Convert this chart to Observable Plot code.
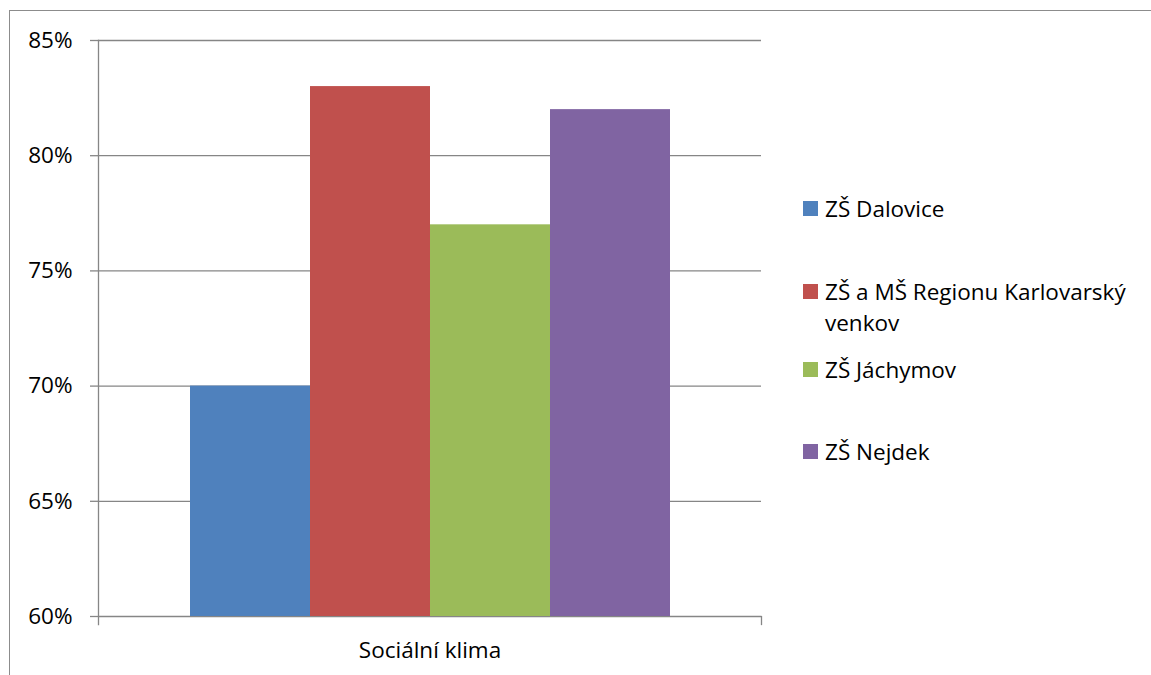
<!DOCTYPE html>
<html>
<head>
<meta charset="utf-8">
<script src="https://cdn.jsdelivr.net/npm/d3@7"></script>
<script src="https://cdn.jsdelivr.net/npm/@observablehq/plot@0.6"></script>
<style>
  html, body { margin: 0; padding: 0; background: #fff; }
  body { width: 1151px; height: 675px; position: relative; overflow: hidden; font-family: "Open Sans", sans-serif; }
  #border { position: absolute; left: 9px; top: 10px; right: -10px; bottom: -10px; border: 1.5px solid #8c8c8c; }
  #chart { position: absolute; left: 0; top: 0; }
  .leg { position: absolute; left: 803px; display: flex; align-items: flex-start; font-size: 22.5px; line-height: 31px; color: #000; }
  .leg .sw { width: 15px; height: 15px; margin-top: 8px; margin-right: 7px; flex: none; }
  .leg .tx { width: 320px; }
</style>
</head>
<body>
<div id="border"></div>
<div id="chart"></div>
<script>
const categories = ["Sociální klima"];
const series = ["ZŠ Dalovice", "ZŠ a MŠ Regionu Karlovarský venkov", "ZŠ Jáchymov", "ZŠ Nejdek"];
const values = [0.70, 0.83, 0.77, 0.82];
const colors = ["#4f81bd", "#c0504d", "#9bbb59", "#8064a2"];
const yTicks = [0.60, 0.65, 0.70, 0.75, 0.80, 0.85];
const yMin = 0.60, yMax = 0.85;

const data = series.map((s, i) => ({category: categories[0], series: s, value: values[i]}));

const W = 1151, H = 675, mT = 40, mB = 59;
const plot = Plot.plot({
  width: W, height: H,
  marginLeft: 98, marginRight: 390, marginTop: mT, marginBottom: mB,
  style: {fontFamily: "Open Sans", fontSize: "22.5px", color: "#000", background: "transparent", overflow: "visible"},
  fx: {domain: categories, padding: 0, label: null, axis: "bottom", tickSize: 0, tickPadding: 26},
  x: {domain: series, axis: null, paddingInner: 0, paddingOuter: 0.75},
  y: {domain: [yMin, yMax], axis: null},
  color: {domain: series, range: colors},
  marks: [
    Plot.gridY(yTicks, {stroke: "#868686", strokeOpacity: 1, strokeWidth: 1.3}),
    Plot.barY(data, {fx: "category", x: "series", y1: yMin, y2: "value", fill: "series"}),
    Plot.axisY(yTicks, {tickFormat: d3.format(".0%"), label: null, tickSize: 8, tickPadding: 18, stroke: "#868686", strokeWidth: 1.3, fill: "#000"}),
    Plot.frame({anchor: "left", stroke: "#868686", strokeWidth: 1.3, insetBottom: -8}),
    Plot.frame({anchor: "right", stroke: "#868686", strokeWidth: 1.3, insetTop: H - mT - mB, insetBottom: -8})
  ]
});
document.getElementById("chart").appendChild(plot);

const tops = [193, 276, 354, 436];
series.forEach((s, i) => {
  const d = document.createElement("div");
  d.className = "leg";
  d.style.top = tops[i] + "px";
  d.innerHTML = `<div class="sw" style="background:${colors[i]}"></div><div class="tx">${s}</div>`;
  document.body.appendChild(d);
});
</script>
</body>
</html>
